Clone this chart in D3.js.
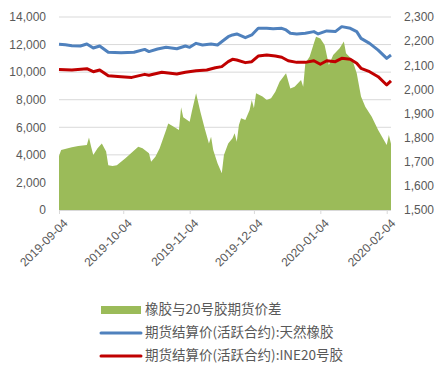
<!DOCTYPE html>
<html><head><meta charset="utf-8">
<script src="https://cdn.jsdelivr.net/npm/d3@7"></script>
<style>body{margin:0;background:#fff}svg{display:block}</style>
</head><body>
<svg id="c" width="445" height="367"></svg>
<script>
// ---- data ----
const spreadDates = ["2019-09-04","2019-09-05","2019-09-10","2019-09-13","2019-09-17","2019-09-18","2019-09-19","2019-09-20","2019-09-22","2019-09-24","2019-09-26","2019-09-27","2019-09-29","2019-10-01","2019-10-05","2019-10-11","2019-10-13","2019-10-16","2019-10-17","2019-10-19","2019-10-21","2019-10-24","2019-10-25","2019-10-27","2019-10-30","2019-10-31","2019-11-01","2019-11-04","2019-11-05","2019-11-07","2019-11-09","2019-11-11","2019-11-13","2019-11-14","2019-11-15","2019-11-17","2019-11-19","2019-11-20","2019-11-22","2019-11-24","2019-11-25","2019-11-26","2019-11-27","2019-11-28","2019-11-30","2019-12-02","2019-12-03","2019-12-04","2019-12-05","2019-12-08","2019-12-10","2019-12-12","2019-12-14","2019-12-16","2019-12-19","2019-12-21","2019-12-23","2019-12-26","2019-12-27","2019-12-28","2019-12-30","2020-01-01","2020-01-02","2020-01-04","2020-01-06","2020-01-08","2020-01-10","2020-01-13","2020-01-15","2020-01-16","2020-01-19","2020-01-21","2020-01-23","2020-01-25","2020-01-28","2020-01-31","2020-02-04","2020-02-05","2020-02-06"];
const spreadValues = [1724,1749,1760,1765,1769,1801,1762,1728,1756,1776,1742,1686,1682,1686,1714,1762,1756,1735,1700,1721,1756,1832,1859,1848,1832,1926,1884,1866,1907,1984,1907,1839,1776,1804,1749,1694,1652,1728,1776,1797,1818,1783,1852,1880,1873,1914,1956,1922,1984,1970,1956,1963,1990,2032,2067,2004,2011,2039,2011,2108,2135,2191,2218,2211,2184,2101,2142,2170,2198,2150,2122,2067,1970,1928,1887,1832,1769,1811,1775];

const rubberDates = ["2019-09-04","2019-09-07","2019-09-10","2019-09-14","2019-09-17","2019-09-20","2019-09-23","2019-09-27","2019-10-03","2019-10-09","2019-10-14","2019-10-16","2019-10-20","2019-10-24","2019-10-29","2019-11-02","2019-11-04","2019-11-07","2019-11-10","2019-11-14","2019-11-17","2019-11-20","2019-11-22","2019-11-24","2019-11-26","2019-11-30","2019-12-03","2019-12-06","2019-12-10","2019-12-13","2019-12-17","2019-12-19","2019-12-21","2019-12-24","2019-12-28","2020-01-01","2020-01-03","2020-01-07","2020-01-11","2020-01-14","2020-01-18","2020-01-21","2020-01-23","2020-01-27","2020-01-31","2020-02-04","2020-02-06"];
const rubberValues = [12020,11980,11920,11900,12040,11750,11900,11440,11410,11440,11650,11490,11680,11800,11700,11900,11800,12090,11970,12040,11970,12330,12570,12700,12770,12500,12700,13180,13180,13150,13180,13060,12820,12770,12820,12940,12770,12990,12940,13300,13180,12940,12450,12090,11600,11000,11240];

const ine20Dates = ["2019-09-04","2019-09-10","2019-09-17","2019-09-20","2019-09-23","2019-09-27","2019-10-03","2019-10-08","2019-10-14","2019-10-16","2019-10-22","2019-10-29","2019-11-02","2019-11-07","2019-11-12","2019-11-16","2019-11-19","2019-11-22","2019-11-24","2019-11-26","2019-11-30","2019-12-03","2019-12-06","2019-12-10","2019-12-14","2019-12-17","2019-12-20","2019-12-24","2019-12-28","2020-01-01","2020-01-04","2020-01-07","2020-01-11","2020-01-14","2020-01-18","2020-01-21","2020-01-23","2020-01-27","2020-01-31","2020-02-04","2020-02-06"];
const ine20Values = [10200,10160,10250,10030,10160,9740,9670,9620,9840,9770,9990,9870,9990,10100,10160,10320,10400,10760,10930,10880,10690,10760,11170,11240,11170,11080,10830,10710,10710,10830,10570,10830,10760,11000,10930,10640,10280,10030,9670,9070,9360];

const xTickDates = ["2019-09-04","2019-10-04","2019-11-04","2019-12-04","2020-01-04","2020-02-04"];
const leftTicks = [0,2000,4000,6000,8000,10000,12000,14000];
const rightTicks = [1500,1600,1700,1800,1900,2000,2100,2200,2300];
const legendLabels = ["橡胶与20号胶期货价差","期货结算价(活跃合约):天然橡胶","期货结算价(活跃合约):INE20号胶"];

// ---- layout ----
const parse = d3.timeParse("%Y-%m-%d");
const svg = d3.select("#c");
const L = 59, R = 391, T = 17, B = 210;
const textColor = "#595959", gridColor = "#d9d9d9";
const cGreen = "#9bbb59", cBlue = "#4f81bd", cRed = "#c00000";

const x = d3.scaleTime().domain([parse("2019-09-04"), parse("2020-02-06")]).range([L, R]);
const yL = d3.scaleLinear().domain([0, 14000]).range([B, T]);
const yR = d3.scaleLinear().domain([1500, 2300]).range([B, T]);

// grid
svg.append("g").selectAll("line").data(leftTicks.filter(d => d > 0)).join("line")
  .attr("x1", L).attr("x2", R).attr("y1", d => yL(d)).attr("y2", d => yL(d))
  .attr("stroke", gridColor).attr("stroke-width", 1);

// area (right axis)
const spread = spreadDates.map((d, i) => ({ d: parse(d), v: spreadValues[i] }));
svg.append("path").datum(spread)
  .attr("fill", cGreen)
  .attr("d", d3.area().x(p => x(p.d)).y0(yR(1500)).y1(p => yR(p.v)));

// x axis line
svg.append("line").attr("x1", L).attr("x2", R).attr("y1", B + 0.5).attr("y2", B + 0.5)
  .attr("stroke", gridColor);

// lines (left axis)
const lineGen = d3.line().x(p => x(p.d)).y(p => yL(p.v));
const rubber = rubberDates.map((d, i) => ({ d: parse(d), v: rubberValues[i] }));
const ine = ine20Dates.map((d, i) => ({ d: parse(d), v: ine20Values[i] }));
svg.append("path").datum(rubber).attr("fill", "none").attr("stroke", cBlue)
  .attr("stroke-width", 3).attr("stroke-linejoin", "round").attr("d", lineGen);
svg.append("path").datum(ine).attr("fill", "none").attr("stroke", cRed)
  .attr("stroke-width", 3).attr("stroke-linejoin", "round").attr("d", lineGen);

// left axis
const fmt = d3.format(",");
const axL = svg.append("g").attr("transform", `translate(${L},0)`)
  .call(d3.axisLeft(yL).tickValues(leftTicks).tickFormat(fmt).tickSize(0).tickPadding(13));
axL.select(".domain").remove();
axL.selectAll("text").attr("fill", textColor).style("font", "12px 'Liberation Sans'");

// right axis
const axR = svg.append("g").attr("transform", `translate(${R},0)`)
  .call(d3.axisRight(yR).tickValues(rightTicks).tickFormat(fmt).tickSize(0).tickPadding(13));
axR.select(".domain").remove();
axR.selectAll("text").attr("fill", textColor).style("font", "12px 'Liberation Sans'");

// x axis
const axX = svg.append("g").attr("transform", `translate(0,${B})`)
  .call(d3.axisBottom(x).tickValues(xTickDates.map(parse)).tickFormat(d3.timeFormat("%Y-%m-%d")).tickSize(4));
axX.select(".domain").remove();
axX.selectAll("line").attr("stroke", gridColor);
axX.selectAll("text").attr("fill", textColor).style("font", "12px 'Liberation Sans'")
  .attr("text-anchor", "end").attr("dx", "0").attr("dy", "0")
  .attr("transform", "translate(4,9) rotate(-45)");

// legend
const lg = svg.append("g");
const ly = [309, 332, 355];
lg.append("rect").attr("x", 101).attr("y", ly[0] - 3).attr("width", 40).attr("height", 8).attr("fill", cGreen);
lg.append("line").attr("x1", 101).attr("x2", 141).attr("y1", ly[1] + 1).attr("y2", ly[1] + 1).attr("stroke", cBlue).attr("stroke-width", 3).attr("stroke-linecap", "round");
lg.append("line").attr("x1", 101).attr("x2", 141).attr("y1", ly[2] + 1).attr("y2", ly[2] + 1).attr("stroke", cRed).attr("stroke-width", 3).attr("stroke-linecap", "round");
lg.selectAll("text").data(legendLabels).join("text")
  .attr("x", 145).attr("y", (d, i) => ly[i]).attr("dy", "0.35em")
  .attr("fill", textColor).style("font", "13.5px 'Noto Sans CJK SC'")
  .text(d => d);
</script>
</body></html>
